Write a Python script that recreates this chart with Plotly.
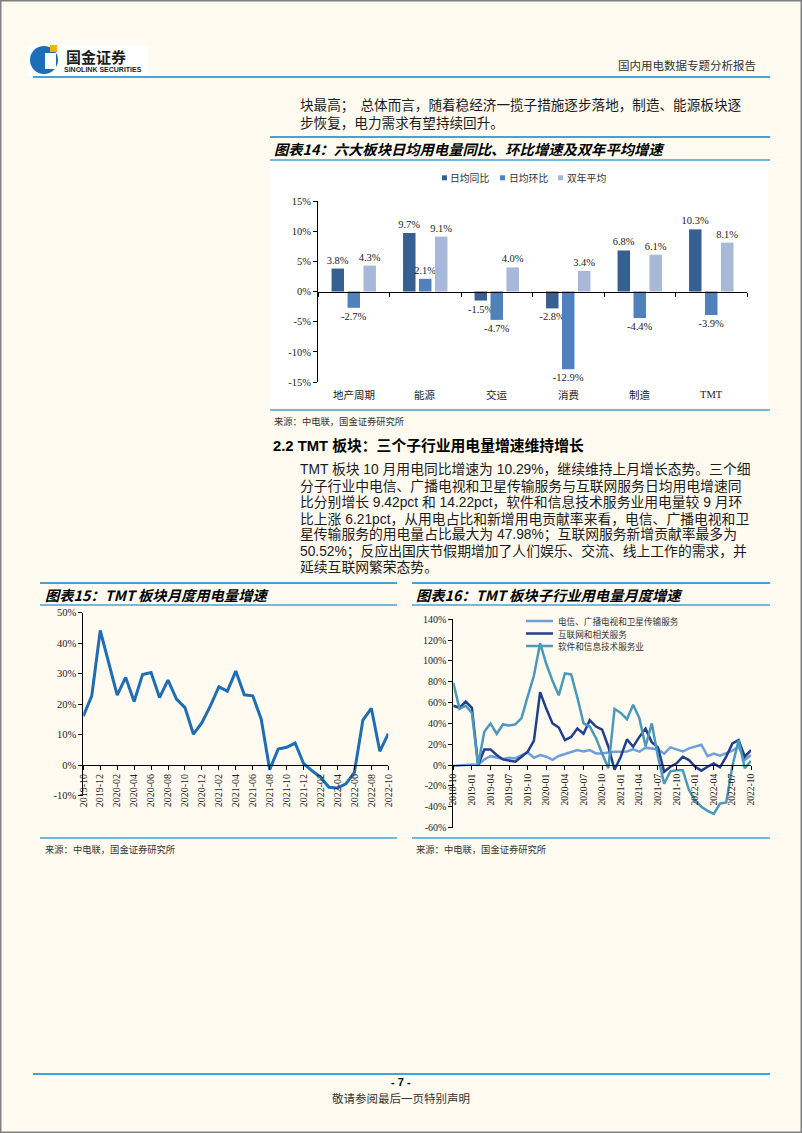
import plotly.graph_objects as go
import pandas as pd

W, H = 802, 1133
def X(p): return p / W
def Y(p): return 1 - p / H

CJK = "Noto Sans CJK SC"
SERIF = "Liberation Serif"
SANS = "Liberation Sans, Noto Sans CJK SC"
BLUE_LINE = "#45A2D8"
BG = "#FFFBF0"

# ---------------- data: chart 14 ----------------
sectors = ["地产周期", "能源", "交运", "消费", "制造", "TMT"]
names14 = ["日均同比", "日均环比", "双年平均"]
yoy = [3.8, 9.7, -1.5, -2.8, 6.8, 10.3]
mom = [-2.7, 2.1, -4.7, -12.9, -4.4, -3.9]
avg2y = [4.3, 9.1, 4.0, 3.4, 6.1, 8.1]
colors14 = ["#366092", "#4F81BD", "#A7B8D9"]
ticks14 = [-15, -10, -5, 0, 5, 10, 15]

# ---------------- data: chart 15 ----------------
months15 = [p.strftime("%Y-%m") for p in pd.period_range("2019-10", "2022-10", freq="M")]
tmt = [16.0, 22.7, 44.1, 33.5, 22.9, 28.7, 20.8, 29.7, 30.3, 22.1, 27.8, 21.6, 18.8,
       10.1, 13.9, 19.4, 25.6, 24.2, 30.8, 23.0, 22.7, 15.0, -1.5, 5.2, 5.8, 7.2,
       0.5, -1.9, -4.0, -7.3, -7.5, -6.2, -2.4, 14.7, 18.6, 4.5, 10.3]
ticks15 = [-10, 0, 10, 20, 30, 40, 50]

# ---------------- data: chart 16 ----------------
months16 = [p.strftime("%Y-%m") for p in pd.period_range("2018-10", "2022-10", freq="M")]
names16 = ["电信、广播电视和卫星传输服务", "互联网和相关服务", "软件和信息技术服务业"]
telecom = [-1, -0.5, 0, 0.5, 0, 5.4, 8.5, 7, 5.8, 7, 6.4, 9.6, 12, 7, 9.6, 8, 5,
           8.7, 10.6, 12, 14.4, 13, 14.4, 11.2, 11.2, 12, 12.8, 12.8, 13, 15, 12.8,
           16.7, 16, 15, 11, 17, 15, 13, 16, 17.6, 19.5, 8.6, 11, 9, 11.2, 13.8,
           17.6, 4.8, 9.6]
internet = [57, 55, 61, 55, 0, 15, 15, 9.6, 5.4, 4.2, 3.2, 8, 12.8, 23.4, 70, 54,
            40, 36, 24, 27, 35, 30, 43, 37, 34, 17.6, -4.5, 8, 24.7, 17.6, 27, 35,
            22, 17, -6.4, -1.6, 1.6, 8, 4.8, -1.6, -5.4, -1.6, 1.6, -2.2, 8, 20.8,
            24, 8, 14.4]
software = [79, 54, 57, 50, 0, 32, 40, 30, 39, 38, 39, 45, 66, 86, 117, 97, 81,
            67, 88, 87, 65, 40, 37, 26, 11, -3, 54, 50, 44, 58, 45, 18, 40, 8,
            -18, -6, -5, -5, -24, -34, -40, -44, -47, -37, -36, -1, 24, -3, 4]
colors16 = ["#6E9FDB", "#213F8C", "#4A98BA"]
ticks16 = [-60, -40, -20, 0, 20, 40, 60, 80, 100, 120, 140]

fig = go.Figure()

# ---------- chart 14 bars ----------
for name, vals, col in zip(names14, [yoy, mom, avg2y], colors14):
    fig.add_trace(go.Bar(
        x=sectors, y=vals, name=name, marker=dict(color=col, line=dict(width=0)),
        text=[f"{v:.1f}%" for v in vals], textposition="outside",
        constraintext="none", cliponaxis=False,
        textfont=dict(family=SERIF, size=10.5, color="#222"),
        xaxis="x", yaxis="y", showlegend=False))

# ---------- chart 15 line ----------
fig.add_trace(go.Scatter(x=months15, y=tmt, mode="lines",
                         line=dict(color="#1F6DB3", width=3),
                         xaxis="x2", yaxis="y2", showlegend=False))

# ---------- chart 16 lines ----------
for name, vals, col in zip(names16, [telecom, internet, software], colors16):
    fig.add_trace(go.Scatter(x=months16, y=vals, mode="lines", name=name,
                             line=dict(color=col, width=2.5),
                             xaxis="x3", yaxis="y3", showlegend=False))

# axis geometry
d14 = [Y(382), Y(201)]
zero14 = d14[0] + (d14[1] - d14[0]) * 0.5
d15 = [Y(795.5), Y(612.5)]
zero15 = d15[0] + (d15[1] - d15[0]) * (10 / 60)
d16 = [Y(827.5), Y(619.3)]
zero16 = d16[0] + (d16[1] - d16[0]) * (60 / 200)

axis_common = dict(showgrid=False, zeroline=False, showline=True, linecolor="#000",
                   linewidth=1, ticks="outside", ticklen=4, tickcolor="#000")

fig.update_layout(
    width=W, height=H, margin=dict(l=0, r=0, t=0, b=0),
    paper_bgcolor=BG, plot_bgcolor="rgba(0,0,0,0)", template="none",
    barmode="group", bargap=0.33, bargroupgap=0.22,
    xaxis=dict(domain=[X(318), X(747)], anchor="free", position=zero14,
               type="category", tickson="boundaries", showticklabels=False,
               **axis_common),
    yaxis=dict(domain=d14, anchor="x", range=[-15, 15], tickvals=ticks14,
               ticktext=[f"{v}%" for v in ticks14],
               tickfont=dict(family=SERIF, size=10.5, color="#222"), **axis_common),
    xaxis2=dict(domain=[X(83.3), X(388.3)], anchor="free", position=zero15,
                type="category", range=[0, len(months15) - 1],
                tickvals=months15[::2], tickangle=-90,
                tickfont=dict(family=SERIF, size=10, color="#222"), **axis_common),
    yaxis2=dict(domain=d15, anchor="x2", range=[-10, 50], tickvals=ticks15,
                ticktext=[f"{v}%" for v in ticks15],
                tickfont=dict(family=SERIF, size=10.5, color="#222"), **axis_common),
    xaxis3=dict(domain=[X(453.3), X(751)], anchor="free", position=zero16,
                type="category", range=[0, len(months16) - 1],
                tickvals=months16[::3], tickangle=-90,
                tickfont=dict(family=SERIF, size=9.5, color="#222"), **axis_common),
    yaxis3=dict(domain=d16, anchor="x3", range=[-60, 140], tickvals=ticks16,
                ticktext=[f"{v}%" for v in ticks16],
                tickfont=dict(family=SERIF, size=10, color="#222"), **axis_common),
    showlegend=False,
)

shapes = []
def hline(x0, x1, y, color=BLUE_LINE, w=2):
    shapes.append(dict(type="line", xref="paper", yref="paper", x0=X(x0), x1=X(x1),
                       y0=Y(y), y1=Y(y), line=dict(color=color, width=w)))
def rect(x0, y0, x1, y1, fill, line=None, layer="below"):
    shapes.append(dict(type="rect", xref="paper", yref="paper", x0=X(x0), x1=X(x1),
                       y0=Y(y1), y1=Y(y0), fillcolor=fill, layer=layer,
                       line=line or dict(width=0)))

# page border
rect(0.75, 0.75, 801.25, 1132.25, "rgba(0,0,0,0)", line=dict(color="#808080", width=1.5), layer="above")
# header logo
rect(28, 45, 148, 76, "#FFFFFF")
shapes.append(dict(type="circle", xref="paper", yref="paper", x0=X(30), x1=X(58),
                   y0=Y(74), y1=Y(46), fillcolor="#1C6DB5", line=dict(width=0), layer="below"))
rect(45, 53, 56, 69, "#FFFFFF")
rect(50, 45, 57, 52, "#F2B400")
hline(33, 770, 77, w=2)
# chart 14 frame
hline(270, 770, 137, w=2)
rect(270, 162, 768, 408, "#FFFFFF")
hline(270, 770, 160, w=1.5)
hline(270, 770, 410, w=1.5)
# chart 15 / 16 frames
for a, b in [(40, 397), (412, 770)]:
    hline(a, b, 583, w=2)
    hline(a, b, 605, w=1.5)
    hline(a, b, 838, w=1.5)
# footer
hline(33, 770, 1074, w=2)

annotations = []
def txt(x, y, s, size=14, color="#1a1a1a", family=CJK, anchor="left"):
    annotations.append(dict(x=X(x), y=Y(y), xref="paper", yref="paper", text=s,
                            showarrow=False, xanchor=anchor, yanchor="middle",
                            font=dict(family=family, size=size, color=color)))

# header texts
txt(64, 57, "<b>国金证券</b>", size=15, color="#1d1d1b")
txt(62, 69.5, "<b>SINOLINK SECURITIES</b>", size=7, color="#1d1d1b", family="Liberation Sans")
txt(758, 65, "国内用电数据专题分析报告", size=11.5, color="#333", anchor="right")

# paragraph 1
para1 = ["块最高；\u00a0\u00a0总体而言，随着稳经济一揽子措施逐步落地，制造、能源板块逐",
         "步恢复，电力需求有望持续回升。"]
for i, line in enumerate(para1):
    txt(298, 104 + 17.5 * i, line, size=13.6)

# titles
txt(272, 148.5, "<b><i>图表14：六大板块日均用电量同比、环比增速及双年平均增速</i></b>", size=14.3, color="#000")
txt(43, 594, "<b><i>图表15：TMT 板块月度用电量增速</i></b>", size=14.3, color="#000")
txt(414, 594, "<b><i>图表16：TMT 板块子行业用电量月度增速</i></b>", size=14.3, color="#000")

# chart 14 legend
for i, (name, col) in enumerate(zip(names14, colors14)):
    x0 = 442 + 58 * i
    rect(x0, 175.3, x0 + 5, 180.3, col, layer="above")
    txt(x0 + 6.5, 177.8, name, size=9.8, color="#333")

# chart 14 category labels
for s in sectors:
    annotations.append(dict(x=s, y=Y(395), xref="x", yref="paper", text=s, showarrow=False,
                            xanchor="center", yanchor="middle",
                            font=dict(family=SERIF + ", " + CJK, size=10.5, color="#222")))

# sources
txt(272, 421, "来源：中电联，国金证券研究所", size=9.3, color="#333")
txt(43, 849, "来源：中电联，国金证券研究所", size=9.3, color="#333")
txt(414, 849, "来源：中电联，国金证券研究所", size=9.3, color="#333")

# section heading
txt(271, 445, "<b>2.2 TMT 板块：三个子行业用电量增速维持增长</b>", size=14.8, color="#000", family=SANS)

# paragraph 2
para2 = ["TMT 板块 10 月用电同比增速为 10.29%，继续维持上月增长态势。三个细",
         "分子行业中电信、广播电视和卫星传输服务与互联网服务日均用电增速同",
         "比分别增长 9.42pct 和 14.22pct，软件和信息技术服务业用电量较 9 月环",
         "比上涨 6.21pct，从用电占比和新增用电贡献率来看，电信、广播电视和卫",
         "星传输服务的用电量占比最大为 47.98%；互联网服务新增贡献率最多为",
         "50.52%；反应出国庆节假期增加了人们娱乐、交流、线上工作的需求，并",
         "延续互联网繁荣态势。"]
for i, line in enumerate(para2):
    txt(298, 470 + 16.2 * i, line, size=13.8, family=SANS)

# chart 16 legend
for i, (name, col) in enumerate(zip(names16, colors16)):
    yy = 621 + 12.5 * i
    shapes.append(dict(type="line", xref="paper", yref="paper", x0=X(526), x1=X(553),
                       y0=Y(yy), y1=Y(yy), line=dict(color=col, width=2.5), layer="above"))
    txt(556, yy, name, size=8.6, color="#333")

# footer
txt(401, 1082, "<b>- 7 -</b>", size=11, color="#000", family="Liberation Sans", anchor="center")
txt(401, 1098, "敬请参阅最后一页特别声明", size=11.5, color="#333", anchor="center")

fig.update_layout(shapes=shapes, annotations=annotations)

fig.write_html("out.html", config={"displayModeBar": False},
               post_script="document.body.style.margin='0';document.body.style.overflow='hidden';")
